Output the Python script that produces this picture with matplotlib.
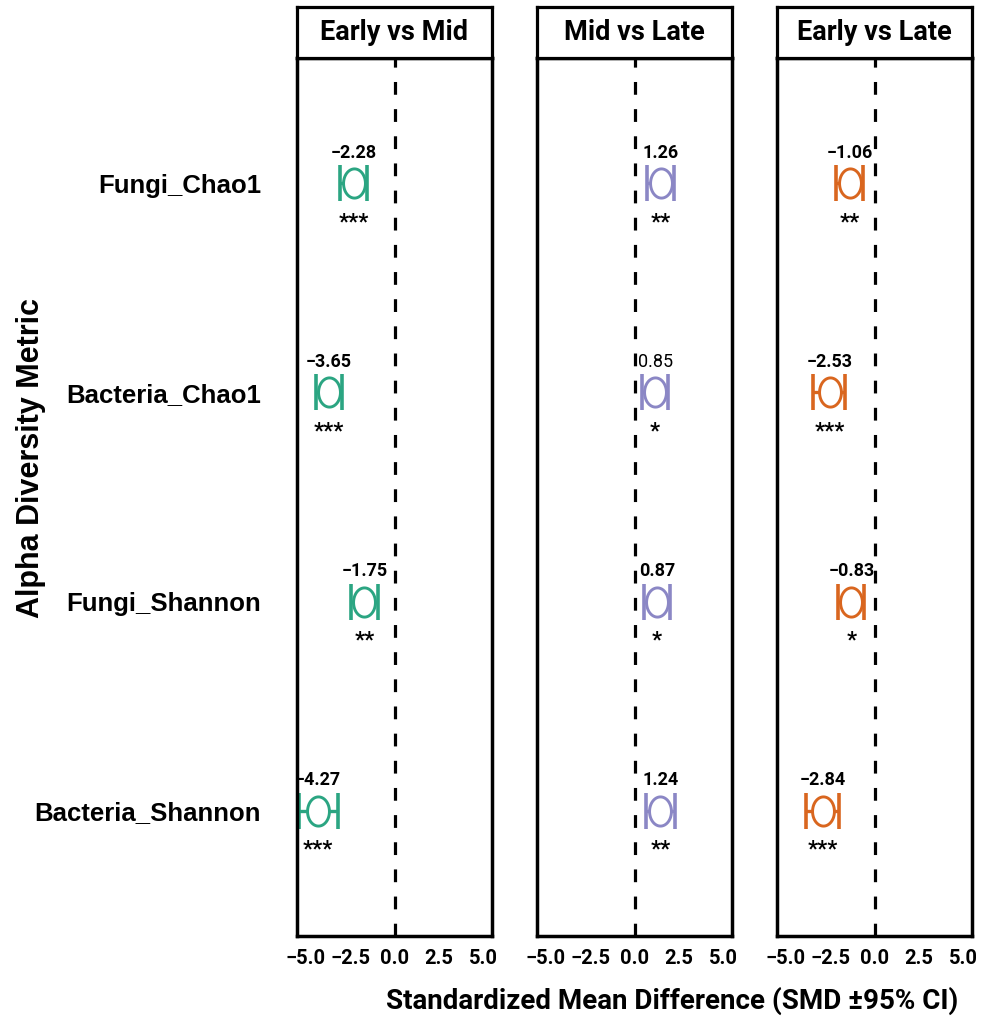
import matplotlib
matplotlib.use("Agg")
import matplotlib.pyplot as plt
from matplotlib import font_manager as fm
from matplotlib.path import Path
import numpy as np

# ---------------- data ----------------
metrics = ["Fungi_Chao1", "Bacteria_Chao1", "Fungi_Shannon", "Bacteria_Shannon"]
comparisons = ["Early vs Mid", "Mid vs Late", "Early vs Late"]
colors = ["#2BA582", "#8B87C5", "#D9661F"]

# plotted point estimates (as positioned in the picture)
est_early_mid = [-2.30, -3.70, -1.70, -4.30]
est_mid_late = [1.47, 1.16, 1.27, 1.46]
est_early_late = [-1.40, -2.53, -1.30, -2.90]

low_early_mid = [-3.07, -4.42, -2.45, -5.40]
high_early_mid = [-1.53, -2.98, -0.95, -3.19]
low_mid_late = [0.73, 0.43, 0.56, 0.66]
high_mid_late = [2.24, 1.88, 1.98, 2.26]
low_early_late = [-2.15, -3.45, -2.05, -3.84]
high_early_late = [-0.67, -1.64, -0.58, -2.03]

labels_early_mid = ["\u22122.28", "\u22123.65", "\u22121.75", "\u22124.27"]
labels_mid_late = ["1.26", "0.85", "0.87", "1.24"]
labels_early_late = ["\u22121.06", "\u22122.53", "\u22120.83", "\u22122.84"]

stars_early_mid = ["***", "***", "**", "***"]
stars_mid_late = ["**", "*", "*", "**"]
stars_early_late = ["**", "***", "*", "***"]

x_ticks = [-5.0, -2.5, 0.0, 2.5, 5.0]
x_ticklabels = ["\u22125.0", "\u22122.5", "0.0", "2.5", "5.0"]

# ---------------- fonts ----------------
def has_font(name):
    try:
        fm.findfont(fm.FontProperties(family=name), fallback_to_default=False)
        return True
    except Exception:
        return False

NARROW = ["Roboto", "DejaVu Sans"] if has_font("Roboto") else ["DejaVu Sans"]
REG = ["Liberation Sans", "DejaVu Sans"] if has_font("Liberation Sans") else ["DejaVu Sans"]


def FP(size, weight="bold"):
    return fm.FontProperties(family=NARROW, weight=weight, size=size)


panels = [
    (comparisons[0], est_early_mid, low_early_mid, high_early_mid, labels_early_mid, stars_early_mid, colors[0]),
    (comparisons[1], est_mid_late, low_mid_late, high_mid_late, labels_mid_late, stars_mid_late, colors[1]),
    (comparisons[2], est_early_late, low_early_late, high_early_late, labels_early_late, stars_early_late, colors[2]),
]

# ellipse marker (horizontally squashed circle)
t = np.linspace(0, 2 * np.pi, 100)
ell = Path(np.column_stack([0.75 * np.cos(t), np.sin(t)]), closed=True)

W, H = 1000, 1031
fig = plt.figure(figsize=(W / 100, H / 100), dpi=100)

panel_left = [297, 537, 777]
panel_w = 195
panel_top, panel_bot = 58, 936
strip_top = 7

ypos = np.arange(len(metrics))[::-1] + 1.0

for k, (title, est, lo, hi, labs, stars, col) in enumerate(panels):
    x0 = panel_left[k]
    ax = fig.add_axes([x0 / W, 1 - panel_bot / H, panel_w / W, (panel_bot - panel_top) / H])
    est = np.array(est); lo = np.array(lo); hi = np.array(hi)
    ax.axvline(0, color="black", lw=2.3, ls=(0, (4, 4.5)), zorder=1)
    ax.errorbar(est, ypos, xerr=[est - lo, hi - est], fmt="none", ecolor=col,
                elinewidth=2.4, capsize=13, capthick=2.6, zorder=2)
    ax.plot(est, ypos, ls="none", marker=ell, markersize=21, markerfacecolor="white",
            markeredgecolor=col, markeredgewidth=2.1, zorder=3)
    for xi, yi, lab, st in zip(est, ypos, labs, stars):
        fp = FP(13, "normal") if lab == "0.85" else FP(13)
        ax.annotate(lab, (xi, yi), xytext=(0, 22), textcoords="offset points",
                    ha="center", va="center", fontproperties=fp,
                    annotation_clip=False, zorder=4)
        ax.annotate(st, (xi, yi), xytext=(0, -28), textcoords="offset points",
                    ha="center", va="center", fontproperties=FP(16),
                    annotation_clip=False, zorder=4)
    ax.set_xlim(-5.5, 5.5)
    ax.set_ylim(0.4, 4.6)
    ax.set_xticks(x_ticks)
    ax.set_xticklabels(x_ticklabels, fontproperties=FP(14.5))
    ax.tick_params(axis="x", length=0, pad=9)
    if k == 0:
        ax.set_yticks(ypos)
        ax.set_yticklabels(metrics, fontsize=18.5, fontweight="bold", family=REG)
        ax.tick_params(axis="y", length=0, pad=26)
    else:
        ax.set_yticks([])
    for s in ax.spines.values():
        s.set_linewidth(2.5)
        s.set_color("black")
    # strip
    sax = fig.add_axes([x0 / W, 1 - panel_top / H, panel_w / W, (panel_top - strip_top) / H])
    sax.set_xticks([]); sax.set_yticks([])
    for s in sax.spines.values():
        s.set_linewidth(2.3)
    sax.text(0.5, 0.5, title, ha="center", va="center", fontproperties=FP(19.5),
             transform=sax.transAxes)

fig.text(31 / W, 1 - 458 / H, "Alpha Diversity Metric", rotation=90, ha="center",
         va="center", fontsize=22, fontweight="bold", family=REG)
fig.text(672 / W, 1 - 1001 / H, "Standardized Mean Difference (SMD \u00b195% CI)",
         ha="center", va="center", fontproperties=FP(20))

fig.savefig("out.png", dpi=100, facecolor="white")
